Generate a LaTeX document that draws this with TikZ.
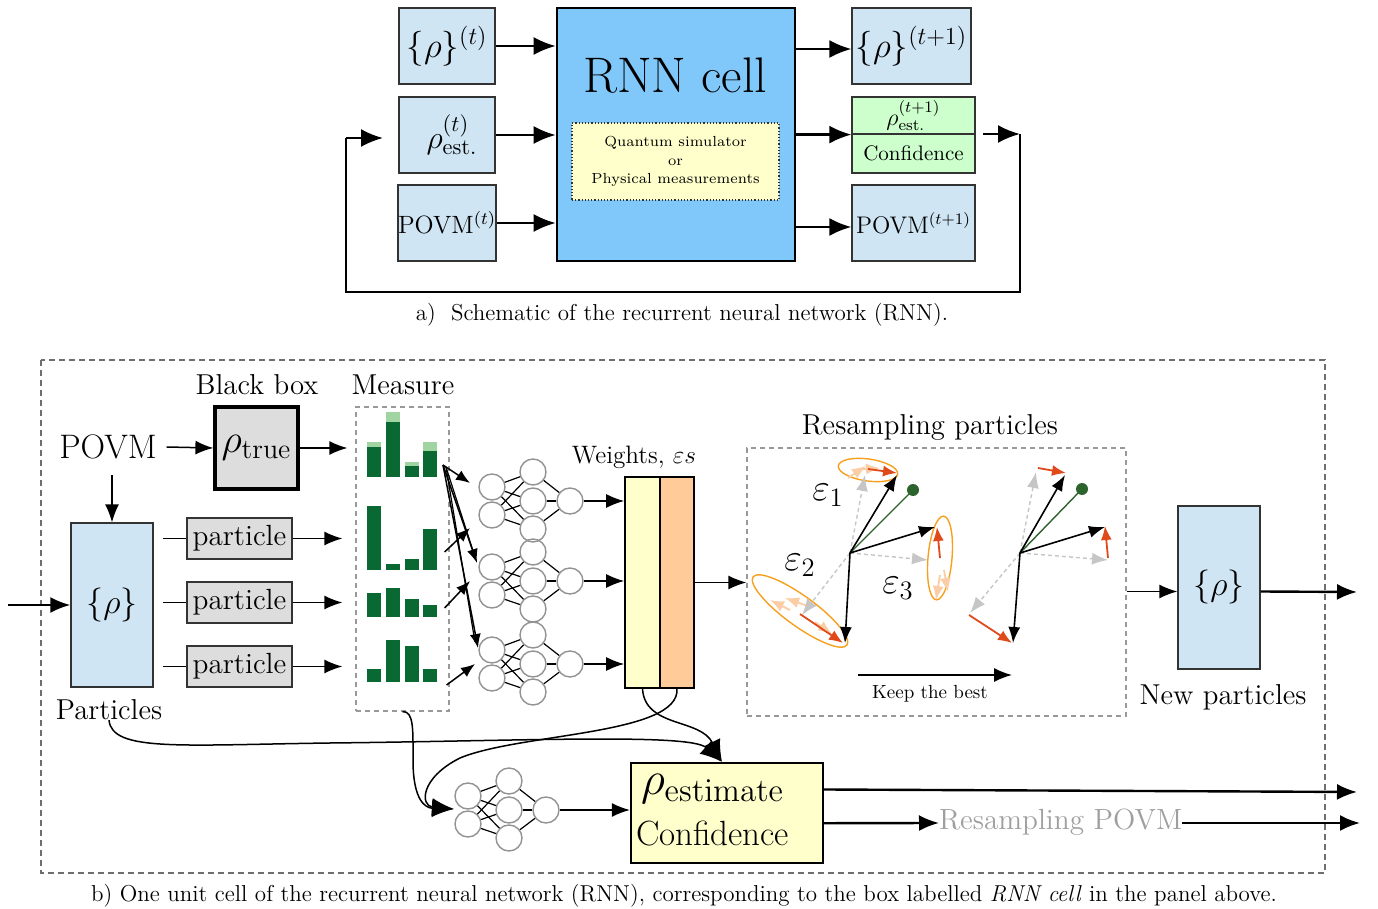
\RequirePackage{fix-cm}
\documentclass[tikz,border=0pt]{standalone}
\usetikzlibrary{arrows.meta,calc}

\definecolor{boxblue}{RGB}{207,229,243}
\definecolor{cellblue}{RGB}{128,200,250}
\definecolor{paleyellow}{RGB}{255,255,204}
\definecolor{palegreen}{RGB}{204,255,204}
\definecolor{boxgray}{RGB}{221,221,221}
\definecolor{peach}{RGB}{255,204,153}
\definecolor{bardark}{RGB}{10,105,50}
\definecolor{barlight}{RGB}{160,212,160}
\definecolor{vecred}{RGB}{224,74,26}
\definecolor{fadeorange}{RGB}{250,205,165}
\definecolor{ellorange}{RGB}{247,160,31}
\definecolor{dotgreen}{RGB}{45,100,45}
\definecolor{framegray}{RGB}{110,110,110}

\tikzset{
  topline/.style={line width=1.2pt},
  toparr/.style={topline, -{Latex[length=11pt,width=9pt]}},
  thinline/.style={line width=0.75pt},
  arr/.style={thinline, -{Latex[length=9pt,width=7pt]}},
  smallarr/.style={thinline, -{Latex[length=7pt,width=5.5pt]}},
  thickarr/.style={line width=1.2pt, -{Latex[length=10pt,width=8pt]}},
  curvearr/.style={line width=0.75pt, -{Latex[length=11pt,width=9pt]}},
  bluebox/.style={draw=black!80, line width=0.6pt, fill=boxblue, inner sep=0pt},
  graybox/.style={draw=black!80, line width=0.8pt, fill=boxgray, inner sep=0pt},
  neuron/.style={circle, draw=gray!85, line width=0.7pt, minimum size=13pt, inner sep=0pt},
  netline/.style={line width=0.6pt},
  blkvec/.style={line width=0.8pt, -{Latex[length=8pt,width=6pt]}},
  ghostvec/.style={line width=0.7pt, gray!45, dash pattern=on 2pt off 1.5pt, -{Latex[length=8pt,width=6pt]}},
  redvec/.style={line width=0.9pt, vecred, -{Latex[length=7pt,width=5.5pt]}},
  fadevec/.style={line width=0.9pt, fadeorange, -{Latex[length=7pt,width=5.5pt]}},
  ell/.style={draw=ellorange, line width=0.7pt},
  txt/.style={inner sep=0pt, outer sep=0pt},
  graydash/.style={draw=gray!80, line width=0.6pt, dash pattern=on 2.5pt off 2pt},
}

% one small feed-forward net: 2 inputs, 3 hidden units, 1 output
\newcommand\smallnet[3]{%
  \node[neuron] (#1i1) at (#2,#3-14) {};
  \node[neuron] (#1i2) at (#2,#3+14) {};
  \node[neuron] (#1h1) at (#2+41,#3-29) {};
  \node[neuron] (#1h2) at (#2+41,#3) {};
  \node[neuron] (#1h3) at (#2+41,#3+28) {};
  \node[neuron] (#1o) at (#2+78,#3) {};
  \foreach \a in {1,2} \foreach \b in {1,2,3} \draw[netline] (#1i\a) -- (#1h\b);
  \foreach \b in {1,2,3} \draw[netline] (#1h\b) -- (#1o);
}

% histogram bar: x0, x1, top, bottom
\newcommand\drawbar[4]{\fill[bardark] (#1,#3) rectangle (#2,#4);}
\newcommand\drawtop[4]{\fill[barlight] (#1,#3) rectangle (#2,#4);}

\begin{document}
\begin{tikzpicture}[x=0.5pt,y=-0.5pt]
\useasboundingbox (0,0) rectangle (1378,909);

%% ---------------- upper panel: the recurrent loop ----------------
\node[bluebox, minimum width=48pt, minimum height=38pt] (b1) at (447,46) {\fontsize{17.5}{20}\selectfont$\{\rho\}^{(t)}$};
\node[bluebox, minimum width=48pt, minimum height=38pt] (b2) at (447,135) {\fontsize{16}{19}\selectfont\hspace*{5pt}$\rho^{(t)}_{\mathrm{est.}}$};
\node[bluebox, minimum width=48pt, minimum height=38pt] (b3) at (447,223) {\fontsize{12.5}{15}\selectfont POVM$^{(t)}$};

\node[draw=black, line width=1.3pt, fill=cellblue, minimum width=119pt, minimum height=126.5pt] (rnn) at (676,134.5) {};
\node[txt] (rnnlab) at (675,76) {\fontsize{25}{29}\selectfont RNN cell};
\node[draw=black!80, densely dotted, line width=0.6pt, fill=paleyellow, minimum width=103.5pt, minimum height=38.5pt, align=center, inner sep=0pt,
      font=\fontsize{7.3}{9.3}\selectfont] (sim) at (675.5,161.5)
  {Quantum simulator\\or\\Physical measurements};

\node[bluebox, minimum width=59.5pt, minimum height=38pt] (r1) at (911.5,46) {\fontsize{17.5}{20}\selectfont$\{\rho\}^{(t+1)}$};
\node[draw=black!80, line width=0.6pt, fill=palegreen, minimum width=61.5pt, minimum height=18.5pt, inner sep=0pt] (g1) at (913.5,115.5) {\fontsize{12}{14}\selectfont$\rho^{(t+1)}_{\mathrm{est.}}$};
\node[draw=black!80, line width=0.6pt, fill=palegreen, minimum width=61.5pt, minimum height=19.5pt, inner sep=0pt] (g2) at (913.5,153.5) {\fontsize{10.5}{12}\selectfont Confidence};
\node[bluebox, minimum width=61.5pt, minimum height=38pt] (r3) at (913.5,223) {\fontsize{12}{14}\selectfont POVM$^{(t+1)}$};

\draw[toparr] (b1.east) -- (b1.east -| rnn.west);
\draw[toparr] (b2.east) -- (b2.east -| rnn.west);
\draw[toparr] (b3.east) -- (b3.east -| rnn.west);
\draw[toparr] ($(rnn.east |- r1.west)+(0,3)$) -- ($(r1.west)+(0,3)$);
\draw[toparr] (rnn.east |- g1.south west) -- (g1.south west);
\draw[toparr] ($(rnn.east |- r3.west)+(0,4)$) -- ($(r3.west)+(0,4)$);

% feedback loop
\coordinate (fb1) at (983,134);
\coordinate (fb2) at (1020,134);
\coordinate (fb3) at (1020,292);
\coordinate (fb4) at (346,292);
\coordinate (fb5) at (346,138);
\coordinate (fb6) at (383,138);
\draw[toparr] (fb1) -- (fb2);
\draw[topline] (fb2) -- (fb3) -- (fb4) -- (fb5);
\draw[toparr] (fb5) -- (fb6);

\node[txt] (capA) at (682,315) {\fontsize{11.5}{13}\selectfont a)\ \ Schematic of the recurrent neural network (RNN).};

%% ---------------- lower panel: one unit cell ----------------
\draw[draw=framegray, line width=1.2pt, dash pattern=on 3pt off 2pt] (41,360) rectangle (1325,873);

\node[txt] (bblab) at (257,385) {\fontsize{14.4}{17}\selectfont Black box};
\node[txt] (measlab) at (403,385) {\fontsize{14.4}{17}\selectfont Measure};
\node[txt] (povm) at (108,447) {\fontsize{17}{20}\selectfont POVM};
\node[draw=black, line width=1.6pt, fill=boxgray, minimum width=41.5pt, minimum height=41pt, inner sep=0pt] (bb) at (256.5,448) {\fontsize{20}{24}\selectfont$\rho_{\mathrm{true}}$};

\node[graydash, minimum width=46.5pt, minimum height=152pt] (meas) at (402.5,559) {};

% measured outcome histograms
\drawtop{367}{381}{442}{447}\drawbar{367}{381}{447}{477}
\drawtop{386}{400}{412}{422}\drawbar{386}{400}{422}{477}
\drawtop{405}{419}{462}{466}\drawbar{405}{419}{466}{477}
\drawtop{423}{437}{442}{451}\drawbar{423}{437}{451}{477}

\drawbar{367}{381}{506}{570}\drawbar{386}{400}{564}{570}
\drawbar{405}{419}{559}{570}\drawbar{423}{437}{529}{570}

\drawbar{367}{381}{593}{617}\drawbar{386}{400}{588}{617}
\drawbar{405}{419}{599}{617}\drawbar{423}{437}{605}{617}

\drawbar{367}{381}{669}{682}\drawbar{386}{400}{640}{682}
\drawbar{405}{419}{646}{682}\drawbar{423}{437}{669}{682}

\node[bluebox, minimum width=41pt, minimum height=82pt] (parts) at (112,605) {\fontsize{17}{20}\selectfont$\{\rho\}$};
\node[txt] (partlab) at (109,710) {\fontsize{14.4}{17}\selectfont Particles};

\node[graybox, minimum width=52.5pt, minimum height=20.5pt] (p1) at (239.5,538.5) {\fontsize{14.6}{17}\selectfont particle};
\node[graybox, minimum width=52.5pt, minimum height=20.5pt] (p2) at (239.5,602.5) {\fontsize{14.6}{17}\selectfont particle};
\node[graybox, minimum width=52.5pt, minimum height=20.5pt] (p3) at (239.5,666.5) {\fontsize{14.6}{17}\selectfont particle};

\coordinate (inL) at (8,605);
\draw[thickarr] (inL) -- (parts.west);
\draw[arr] ($(povm.south -| parts.north)+(0,16)$) -- (parts.north);
\draw[arr] ([xshift=5pt]povm.east) -- (bb.west);
\draw[arr] (bb.east) -- ($(meas.west |- bb.east)+(-8,0)$);
\foreach \p in {p1,p2,p3}{
  \draw[thinline] ($(parts.east |- \p.west)+(9,0)$) -- (\p.west);
  \draw[arr] (\p.east) -- ($(meas.west |- \p.east)+(-13,0)$);
}

% particle weighting networks
\smallnet{na}{492}{501}
\smallnet{nb}{492}{581}
\smallnet{nc}{492}{664}

\coordinate (hx) at (443,465);
\draw[smallarr] (hx) -- ($(nai1)+(-22,-4)$);
\draw[smallarr] (hx) -- ($(nbi1)+(-15,-4)$);
\draw[smallarr] (hx) -- ($(nci1)+(-14,-2)$);
\draw[netline] ($(hx)+(3,2)$) -- ($(nbi1)+(-17,-10)$);
\draw[netline] ($(hx)+(3,2)$) -- ($(nci1)+(-17,-8)$);
\draw[smallarr] ($(meas.east |- 0,552)+(-5,0)$) -- ($(nai2)+(-22,13)$);
\draw[smallarr] ($(meas.east |- 0,608)+(-5,0)$) -- ($(nbi2)+(-22,-14)$);
\draw[smallarr] ($(meas.east |- 0,685)+(-3,0)$) -- ($(nci2)+(-17,-14)$);

\node[draw=black, line width=0.8pt, fill=paleyellow, minimum width=17.5pt, minimum height=105.5pt, inner sep=0pt] (wy) at (642.5,582.5) {};
\node[draw=black, line width=0.8pt, fill=peach, minimum width=17pt, minimum height=105.5pt, inner sep=0pt] (wo) at (677,582.5) {};
\node[txt] (wlab) at (634,457) {\fontsize{12.6}{15}\selectfont Weights, $\varepsilon s$};

\draw[arr] (nao) -- (nao -| wy.west);
\draw[arr] (nbo) -- (nbo -| wy.west);
\draw[arr] (nco) -- (nco -| wy.west);

% resampling panel
\node[graydash, minimum width=189.5pt, minimum height=134pt] (rs) at (936.5,582) {};
\node[txt] (rslab) at (930,427) {\fontsize{14.4}{17}\selectfont Resampling particles};
\draw[arr] (wo.east) -- (wo.east -| rs.west);

\coordinate (oA) at (850,553);
\coordinate (oB) at (1020,553);

% left cloud: current particles with their spreads
\draw[ell, rotate around={-8:(868,470)}] (868,470) ellipse [x radius=30, y radius=11];
\draw[ell, rotate around={-5:(940,558)}] (940,558) ellipse [x radius=12, y radius=42];
\draw[ell, rotate around={-36:(800,611)}] (800,611) ellipse [x radius=58, y radius=15];
\draw[fadevec] (848,478) -- (866,466);
\draw[fadevec] (852,470) -- (880,468);
\draw[fadevec] (940,575) -- (936,600);
\draw[fadevec] (944,570) -- (948,592);
\draw[fadevec] (790,610) -- (770,600);
\draw[fadevec] (815,622) -- (832,634);
\draw[fadevec] (808,606) -- (785,598);

\draw[ghostvec] (oA) -- (865,475);
\draw[ghostvec] (oA) -- (928,560);
\draw[ghostvec] (oA) -- (802,615);
\draw[dotgreen, line width=0.7pt] (oA) -- (913,490);
\fill[dotgreen] (913,490) circle [radius=6];
\draw[blkvec] (oA) -- (897,475);
\draw[blkvec] (oA) -- (935,527);
\draw[blkvec] (oA) -- (845,643);
\draw[redvec] (868,469) -- (897,473);
\draw[redvec] (940,558) -- (937,527);
\draw[redvec] (800,614) -- (843,643);

\node[txt] (e1) at (828,495) {\fontsize{19}{22}\selectfont$\varepsilon_1$};
\node[txt] (e2) at (800,565) {\fontsize{19}{22}\selectfont$\varepsilon_2$};
\node[txt] (e3) at (898,588) {\fontsize{19}{22}\selectfont$\varepsilon_3$};

% right cloud: the kept particles
\draw[ghostvec] (oB) -- (1036,472);
\draw[ghostvec] (oB) -- (1108,560);
\draw[ghostvec] (oB) -- (970,613);
\draw[dotgreen, line width=0.7pt] (oB) -- (1082,489);
\fill[dotgreen] (1082,489) circle [radius=6];
\draw[blkvec] (oB) -- (1065,475);
\draw[blkvec] (oB) -- (1105,527);
\draw[blkvec] (oB) -- (1013,643);
\draw[redvec] (1038,468) -- (1066,473);
\draw[redvec] (1108,558) -- (1105,526);
\draw[redvec] (969,615) -- (1012,643);

\coordinate (kA) at (858,675);
\coordinate (kB) at (1012,675);
\draw[arr] (kA) -- (kB);
\node[txt] (keeplab) at (930,694) {\fontsize{9.5}{11}\selectfont Keep the best};

% new particle set
\node[bluebox, minimum width=41pt, minimum height=81.5pt] (newp) at (1219,587.5) {\fontsize{17}{20}\selectfont$\{\rho\}$};
\node[txt] (newlab) at (1223,697) {\fontsize{14.4}{17}\selectfont New particles};
\draw[arr] ($(rs.east |- newp.west)+(0,4)$) -- ($(newp.west)+(0,4)$);
\coordinate (outR) at (1357,592);
\draw[thickarr] ($(newp.east)+(0,4)$) -- (outR);

% state estimate
\node[draw=black, line width=1.1pt, fill=paleyellow, minimum width=96pt, minimum height=50pt, inner sep=0pt] (est) at (727,813) {};
\node[txt, anchor=west] (estA) at (641,789) {\fontsize{23.5}{27}\selectfont$\rho_{\mathrm{estimate}}$};
\node[txt, anchor=west] (estB) at (636,833) {\fontsize{17.5}{20}\selectfont Confidence};
\coordinate (estin) at ($(est.north)+(-5,0)$);

\smallnet{nd}{468}{810}
\draw[arr] (ndo) -- (ndo -| est.west);
\coordinate (ndin) at ($(ndi1)+(-14,13)$);

\draw[curvearr] (partlab.south) .. controls (112,752) and (180,745) .. (330,743) .. controls (520,741) and (690,733) .. (estin);
\draw[curvearr] (wy.south) .. controls (645,728) and (700,718) .. (estin);
\draw[curvearr] (wo.south) .. controls (680,735) and (520,733) .. (460,758) .. controls (420,778) and (420,806) .. (ndin);
\draw[curvearr] (meas.south) .. controls (414,711) and (413,730) .. (413,760) .. controls (413,800) and (425,808) .. (ndin);

\coordinate (outE1) at (1357,792);
\coordinate (outE2) at (1360,823);
\draw[thickarr] ($(est.north east)!0.27!(est.south east)$) -- (outE1);
\node[txt, anchor=west, text=gray!75] (rpovm) at (939,822) {\fontsize{14.6}{17}\selectfont Resampling POVM};
\draw[thickarr] ($(est.north east)!0.6!(est.south east)$) -- (rpovm.west |- 0,823);
\draw[thickarr] (rpovm.east |- 0,823) -- (outE2);

\node[txt] (capB) at (684,896) {\fontsize{11.5}{13}\selectfont b) One unit cell of the recurrent neural network (RNN), corresponding to the box labelled \textit{RNN cell} in the panel above.};
\end{tikzpicture}
\end{document}
